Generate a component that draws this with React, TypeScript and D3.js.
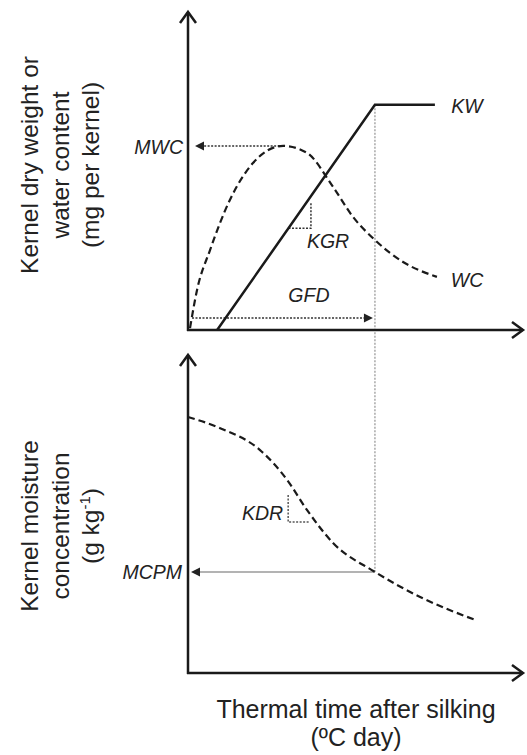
import * as d3 from "d3";

// conceptual units: thermal time 0..100, both y axes 0..100
const KW_X = [8.7, 55.8, 73.7];
const KW_Y = [0, 70.8, 70.8];

const WC_X = [0.6, 2.7, 6.6, 12.5, 19.4, 28.4, 35.5, 43.3, 49.3, 55.8, 64.2, 74.3];
const WC_Y = [0.6, 12.6, 25.2, 40.9, 52.5, 57.9, 55.7, 45.0, 35.5, 28.3, 21.4, 16.7];

const MC_X = [0, 9.6, 21.5, 29.6, 35.5, 43.3, 55.8, 69.3, 85.7];
const MC_Y = [80.5, 77.0, 70.1, 60.7, 51.3, 40.9, 31.8, 23.9, 16.7];

const KGR_X = [30, 36.7];
const KDR_X = [29.9, 36.4];
const KDR_Y = [56, 47.5];

const TOP_LABEL = ["Kernel dry weight or", "water content", "(mg per kernel)"];
const BOTTOM_LABEL = ["Kernel moisture", "concentration"];
const X_LABEL = ["Thermal time after silking", "(ºC day)"];

const W = 527;
const H = 755;
const INK = "#1a1a1a";
const TXT = "#222";
const FONT = "'Liberation Sans', Arial, sans-serif";

export default function App() {
  const x = d3.scaleLinear().domain([0, 100]).range([188, 523]);
  const yTop = d3.scaleLinear().domain([0, 100]).range([330, 12]);
  const yBot = d3.scaleLinear().domain([0, 100]).range([673, 355]);

  const kw = KW_X.map((v, i) => [v, KW_Y[i]] as [number, number]);
  const wc = WC_X.map((v, i) => [v, WC_Y[i]] as [number, number]);
  const mc = MC_X.map((v, i) => [v, MC_Y[i]] as [number, number]);

  const kwPath = d3.line<[number, number]>().x((d) => x(d[0])).y((d) => yTop(d[1]))(kw)!;
  const wcPath = d3
    .line<[number, number]>()
    .x((d) => x(d[0]))
    .y((d) => yTop(d[1]))
    .curve(d3.curveMonotoneX)(wc)!;
  const mcPath = d3
    .line<[number, number]>()
    .x((d) => x(d[0]))
    .y((d) => yBot(d[1]))
    .curve(d3.curveMonotoneX)(mc)!;

  // derived annotations
  const peak = wc.reduce((a, b) => (b[1] > a[1] ? b : a));
  const gfd = KW_X[1];
  const mcpm = mc.find((d) => d[0] === gfd)!;
  const kwAt = (t: number) => ((t - KW_X[0]) / (KW_X[1] - KW_X[0])) * KW_Y[1];

  const x0 = x(0);
  const xEnd = x(100);

  const chevron = (px: number, py: number, dir: "up" | "right") =>
    dir === "up"
      ? `M${px - 8},${py + 11}L${px},${py}L${px + 8},${py + 11}`
      : `M${px - 11},${py - 8}L${px},${py}L${px - 11},${py + 8}`;

  const tri = (px: number, py: number, dir: "left" | "right") =>
    dir === "left"
      ? `M${px},${py}L${px + 9},${py - 4.5}L${px + 9},${py + 4.5}Z`
      : `M${px},${py}L${px - 9},${py - 4.5}L${px - 9},${py + 4.5}Z`;

  const italic = { fontFamily: FONT, fontStyle: "italic", fontSize: 19.5, fill: TXT };

  return (
    <svg
      width={W}
      height={H}
      style={{ position: "absolute", left: 0, top: 0, background: "#fff" }}
    >
      {/* end of grain filling, carried down to MCPM */}
      <line
        x1={x(gfd)}
        x2={x(gfd)}
        y1={yTop(KW_Y[1])}
        y2={yBot(mcpm[1])}
        stroke="#a8a8a8"
        strokeWidth={1.5}
        strokeDasharray="2,1.5"
      />

      {/* top panel axes */}
      <line x1={x0} x2={x0} y1={yTop(0) + 1} y2={yTop(100)} stroke={INK} strokeWidth={2.5} />
      <path d={chevron(x0, yTop(100), "up")} fill="none" stroke={INK} strokeWidth={2.5} />
      <line x1={x0 - 1} x2={xEnd} y1={yTop(0)} y2={yTop(0)} stroke={INK} strokeWidth={2.5} />
      <path d={chevron(xEnd, yTop(0), "right")} fill="none" stroke={INK} strokeWidth={2.5} />

      {/* MWC */}
      <line
        x1={x(peak[0])}
        x2={x0 + 15}
        y1={yTop(peak[1])}
        y2={yTop(peak[1])}
        stroke="#333"
        strokeWidth={1.5}
        strokeDasharray="2,1.5"
      />
      <path d={tri(x0 + 7, yTop(peak[1]), "left")} fill="#222" />
      <text x={x0 - 5} y={yTop(peak[1]) + 8} textAnchor="end" {...italic}>MWC</text>

      {/* GFD */}
      <line
        x1={x0 + 4}
        x2={x(gfd) - 10}
        y1={yTop(3.8)}
        y2={yTop(3.8)}
        stroke="#333"
        strokeWidth={1.5}
        strokeDasharray="2,1.5"
      />
      <path d={tri(x(gfd) - 2, yTop(3.8), "right")} fill="#222" />
      <text x={x(36.1)} y={yTop(8.8)} textAnchor="middle" {...italic}>GFD</text>

      {/* KGR */}
      <path
        d={`M${x(KGR_X[0])},${yTop(kwAt(KGR_X[0]))}H${x(KGR_X[1])}V${yTop(kwAt(KGR_X[1])) + 6}`}
        fill="none"
        stroke="#333"
        strokeWidth={1.5}
        strokeDasharray="2,1.5"
      />
      <text x={x(41.8)} y={yTop(25.8)} textAnchor="middle" {...italic}>KGR</text>

      <path d={wcPath} fill="none" stroke={INK} strokeWidth={2.2} strokeDasharray="7,4" />
      <path d={kwPath} fill="none" stroke={INK} strokeWidth={2.5} />

      <text x={x(83.3)} y={yTop(68.2)} textAnchor="middle" {...italic}>KW</text>
      <text x={x(83.3)} y={yTop(13.5)} textAnchor="middle" {...italic}>WC</text>

      {/* bottom panel axes */}
      <line x1={x0} x2={x0} y1={yBot(0) + 1} y2={yBot(100)} stroke={INK} strokeWidth={2.5} />
      <path d={chevron(x0, yBot(100), "up")} fill="none" stroke={INK} strokeWidth={2.5} />
      <line x1={x0 - 1} x2={xEnd} y1={yBot(0)} y2={yBot(0)} stroke={INK} strokeWidth={2.5} />
      <path d={chevron(xEnd, yBot(0), "right")} fill="none" stroke={INK} strokeWidth={2.5} />

      {/* MCPM */}
      <line
        x1={x(mcpm[0])}
        x2={x0 + 10}
        y1={yBot(mcpm[1])}
        y2={yBot(mcpm[1])}
        stroke="#9a9a9a"
        strokeWidth={1.5}
      />
      <path d={tri(x0 + 3, yBot(mcpm[1]), "left")} fill="#222" />
      <text x={x0 - 6} y={yBot(mcpm[1]) + 7} textAnchor="end" {...italic}>MCPM</text>

      {/* KDR */}
      <path
        d={`M${x(KDR_X[0])},${yBot(KDR_Y[0])}V${yBot(KDR_Y[1])}H${x(KDR_X[1])}`}
        fill="none"
        stroke="#555"
        strokeWidth={1.5}
        strokeDasharray="2,1.5"
      />
      <text x={x(KDR_X[0]) - 5} y={yBot(48.1)} textAnchor="end" {...italic}>KDR</text>

      <path d={mcPath} fill="none" stroke={INK} strokeWidth={2.2} strokeDasharray="7,4" />

      {/* axis titles */}
      <g transform="translate(0,165) rotate(-90)" fontFamily={FONT} fontSize={24.5} fill={TXT} textAnchor="middle">
        {TOP_LABEL.map((t, i) => (
          <text key={t} x={0} y={38 + i * 30.5}>{t}</text>
        ))}
      </g>
      <g transform="translate(0,526) rotate(-90)" fontFamily={FONT} fontSize={24.5} fill={TXT} textAnchor="middle">
        {BOTTOM_LABEL.map((t, i) => (
          <text key={t} x={0} y={38 + i * 30.5}>{t}</text>
        ))}
        <text x={0} y={99}>
          (g kg<tspan dy={-9} fontSize={15}>-1</tspan><tspan dy={9}>)</tspan>
        </text>
      </g>
      <g fontFamily={FONT} fontSize={25} fill={TXT} textAnchor="middle">
        {X_LABEL.map((t, i) => (
          <text key={t} x={356} y={718 + i * 28}>{t}</text>
        ))}
      </g>
    </svg>
  );
}
